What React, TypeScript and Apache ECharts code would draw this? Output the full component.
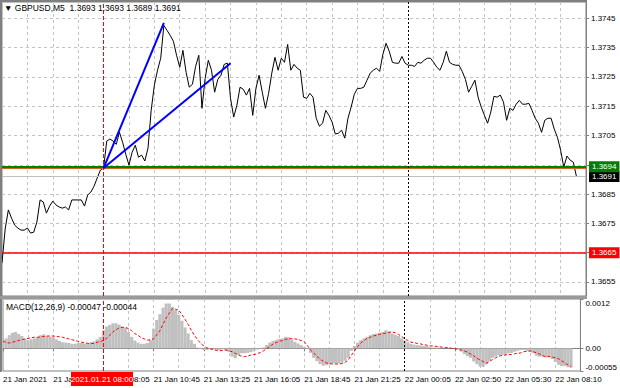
import React, { useEffect, useRef } from "react";
import * as echarts from "echarts";

// ---- data (M5 bars, sampled every second bar) ----
const priceSeries: number[] = [
  1.36615, 1.36731, 1.36796, 1.36768, 1.36744, 1.36734, 1.36727, 1.36727, 1.36734, 1.36717,
  1.3672, 1.36755, 1.3683, 1.36823, 1.36785, 1.36809, 1.36826, 1.36813, 1.36806, 1.36802,
  1.36806, 1.36796, 1.3683, 1.3683, 1.3683, 1.3683, 1.36809, 1.36847, 1.36857, 1.36877,
  1.36905, 1.36932, 1.36939, 1.37031, 1.37038, 1.37031, 1.3702, 1.37061, 1.37027, 1.36986,
  1.36949, 1.36993, 1.37017, 1.36976, 1.36983, 1.36963, 1.37007, 1.37136, 1.37222, 1.37273,
  1.37314, 1.37426, 1.37409, 1.37392, 1.37372, 1.37324, 1.37283, 1.37341, 1.37266, 1.37215,
  1.37225, 1.37286, 1.37324, 1.37143, 1.37245, 1.37307, 1.37273, 1.37198, 1.37242, 1.37256,
  1.37293, 1.37297, 1.37177, 1.37113, 1.37153, 1.37215, 1.37208, 1.37188, 1.37211, 1.37119,
  1.37211, 1.37256, 1.37198, 1.37143, 1.37194, 1.37263, 1.37317, 1.37273, 1.37314, 1.373,
  1.37361, 1.37273, 1.37293, 1.3728, 1.37273, 1.37181, 1.37177, 1.37194, 1.37181, 1.37109,
  1.37082, 1.37092, 1.37136, 1.37119, 1.37096, 1.37055, 1.37058, 1.37068, 1.37041, 1.37109,
  1.37147, 1.37191, 1.37211, 1.37211, 1.37215, 1.37239, 1.37263, 1.37273, 1.3728, 1.37269,
  1.37327, 1.37365, 1.37338, 1.373, 1.37297, 1.37297, 1.3732, 1.37297, 1.3729, 1.3729,
  1.37286, 1.373, 1.37297, 1.37307, 1.37314, 1.37314, 1.373, 1.37283, 1.37273, 1.373,
  1.37338, 1.373, 1.37293, 1.3729, 1.3729, 1.37269, 1.37242, 1.37198, 1.37218, 1.37239,
  1.37181, 1.37147, 1.37119, 1.37092, 1.3713, 1.37184, 1.37181, 1.37188, 1.37164, 1.37102,
  1.37143, 1.37136, 1.37157, 1.3717, 1.37157, 1.37157, 1.3716, 1.37136, 1.37109, 1.37092,
  1.37061, 1.37102, 1.37109, 1.37109, 1.37072, 1.37044, 1.37, 1.36942, 1.3698, 1.36966,
  1.36959, 1.3691,
];

// MACD main histogram, in units of 0.00001
const macdHistE5: number[] = [
  20, 24, 32, 38, 40, 35, 30, 23, 20, 22,
  24, 28, 32, 34, 30, 28, 27, 22, 18, 15,
  14, 13, 11, 11, 13, 13, 12, 12, 15, 17,
  22, 28, 44, 53, 57, 61, 61, 58, 53, 50,
  40, 28, 19, 14, 11, 11, 13, 20, 48, 69,
  83, 99, 109, 109, 101, 93, 82, 67, 51, 36,
  20, 11, 2, -2, -4, -4, -2, -2, -4, -4,
  -2, -5, -9, -20, -24, -16, -12, -12, -11, -9,
  -6, -3, -1, 2, 8, 14, 18, 20, 23, 24,
  28, 27, 22, 16, 12, 8, 4, -1, -11, -23,
  -31, -38, -42, -41, -39, -37, -37, -37, -35, -30,
  -23, -6, 6, 14, 20, 24, 28, 32, 35, 36,
  38, 40, 44, 41, 36, 33, 30, 24, 19, 15,
  11, 9, 8, 7, 6, 6, 4, 2, 2, 2,
  0, 0, 0, 0, 0, -2, -8, -14, -19, -23,
  -32, -38, -44, -45, -39, -31, -23, -20, -16, -16,
  -14, -12, -11, -8, -6, -4, -4, -6, -9, -12,
  -18, -20, -20, -22, -21, -26, -33, -40, -43, -43,
  -46, -47,
];

// MACD signal line, in units of 0.00001
const macdSignalE5: number[] = [
  18, 14, 13, 15, 17, 19, 21, 23, 24, 26,
  27, 27, 28, 29, 30, 30, 30, 29, 28, 27,
  25, 23, 21, 19, 17, 15, 14, 12, 12, 12,
  15, 16, 20, 24, 32, 40, 45, 50, 51, 51,
  48, 43, 36, 32, 26, 23, 20, 21, 23, 33,
  43, 59, 74, 86, 97, 95, 93, 82, 71, 58,
  44, 32, 21, 12, 6, 1, -1, -3, -5, -6,
  -5, -4, -6, -8, -12, -16, -19, -20, -19, -16,
  -15, -13, -10, -6, -1, 5, 10, 14, 17, 19,
  22, 23, 24, 23, 22, 19, 16, 7, -4, -11,
  -19, -26, -31, -35, -37, -38, -38, -38, -37, -34,
  -28, -17, -6, 4, 13, 19, 24, 27, 30, 32,
  34, 36, 37, 39, 40, 38, 34, 29, 23, 19,
  15, 14, 12, 11, 9, 8, 6, 6, 5, 4,
  3, 2, 2, 0, -1, -2, -4, -6, -9, -14,
  -18, -24, -28, -32, -36, -32, -27, -23, -19, -17,
  -16, -15, -15, -13, -12, -11, -8, -7, -6, -8,
  -11, -14, -18, -20, -20, -21, -23, -25, -30, -35,
  -40, -44,
];

const timeLabels: string[] = [
  "21 Jan 2021", "21 Jan 05:25", "21 Jan 08:05", "21 Jan 10:45",
  "21 Jan 13:25", "21 Jan 16:05", "21 Jan 18:45", "21 Jan 21:25",
  "22 Jan 00:05", "22 Jan 02:50", "22 Jan 05:30", "22 Jan 08:10",
];
const LABEL_STEP = 16; // slots between time labels
const GRID_STEP = 8; // slots between vertical grid lines
const SLOT_COUNT = 185; // includes the right-hand chart shift

const priceGridValues: number[] = [
  1.3655, 1.3665, 1.3675, 1.3685, 1.3695, 1.3705, 1.3715, 1.3725, 1.3735, 1.3745,
];
const priceLabelValues: number[] = [
  1.3655, 1.3675, 1.3685, 1.3705, 1.3715, 1.3725, 1.3735, 1.3745,
];
const macdLabelValues: number[] = [-0.00055, 0, 0.0012];
const macdLabelTexts: string[] = ["-0.00055", "0.00", "0.0012"];

const ohlc: number[] = [1.3693, 1.3693, 1.3689, 1.3691];
const BID_PRICE = 1.3691;
const GREEN_LEVEL = 1.36943;
const ORANGE_LEVEL = 1.36937;
const RED_LEVEL = 1.3665;
const MARKER_SLOT = 32; // 2021.01.21 08:00
const DAY_SEPARATOR_SLOT = 128;
const markerLabel = "2021.01.21 08:00";
const trendLines: [number, number][][] = [
  [[32, 1.36939], [51, 1.37435]],
  [[32, 1.36939], [72, 1.37297]],
];

const FONT = "'Liberation Sans', Arial, sans-serif";
const FS = 8;
const TITLE_FS = 8.5;
const GRID_LINE = { color: "#c4c4c4", type: [3, 3] as number[], width: 1 };

export default function App() {
  const ref = useRef<HTMLDivElement>(null);

  useEffect(() => {
    if (!ref.current) return;
    const chart = echarts.init(ref.current, null, { renderer: "svg" });
    const categories = Array.from({ length: SLOT_COUNT }, (_, i) => String(i));
    const hist = macdHistE5.map((v) => v / 100000);
    const signal = macdSignalE5.map((v) => v / 100000);
    const lastHist = hist[hist.length - 1].toFixed(5);
    const lastSignal = signal[signal.length - 1].toFixed(5);

    const boxLabel = (text: string, bg: string) => ({
      show: true,
      position: "end",
      formatter: text,
      backgroundColor: bg,
      color: "#ffffff",
      padding: [1, 3, 1, 3],
      distance: 3,
      fontSize: FS,
      lineHeight: 9,
      fontFamily: FONT,
    });

    // one helper series per drawn line, so every line carries its own style
    const lineObject = (
      name: string,
      pane: number,
      item: any,
      color: string,
      width: number,
      type: any,
      label?: any,
      z = 4
    ) => ({
      name,
      type: "line",
      xAxisIndex: pane,
      yAxisIndex: pane,
      data: [],
      symbol: "none",
      color,
      lineStyle: { color, width, type },
      z,
      markLine: {
        silent: true,
        symbol: "none",
        precision: 6,
        z,
        animation: false,
        lineStyle: { color, width, type },
        label: label ?? { show: false },
        emphasis: { disabled: true },
        data: [item],
      },
    });

    const labelEvery = (i: number) => i % LABEL_STEP === 0;
    const gridEvery = (i: number) =>
      i % GRID_STEP === 0 && i !== MARKER_SLOT && i !== DAY_SEPARATOR_SLOT;

    const option: any = {
      animation: false,
      backgroundColor: "#ffffff",
      title: [
        {
          text: `▼ GBPUSD,M5  ${ohlc.map((v) => v.toFixed(4)).join(" ")}`,
          left: 4,
          top: 3,
          padding: 0,
          textStyle: { fontSize: TITLE_FS, fontWeight: "normal", fontFamily: FONT, color: "#000" },
        },
        {
          text: `MACD(12,26,9) ${lastHist} ${lastSignal}`,
          left: 6,
          top: 302,
          padding: 0,
          textStyle: { fontSize: TITLE_FS, fontWeight: "normal", fontFamily: FONT, color: "#000" },
        },
      ],
      grid: [
        { left: 2, right: 34, top: 2, height: 294, show: true, borderColor: "#808080", borderWidth: 1 },
        { left: 2, right: 34, top: 299, height: 72, show: true, borderColor: "#808080", borderWidth: 1 },
      ],
      xAxis: [
        {
          type: "category",
          gridIndex: 0,
          data: categories,
          boundaryGap: false,
          axisLine: { show: false },
          axisTick: { show: false },
          axisLabel: { show: false },
          splitLine: { show: true, interval: gridEvery, lineStyle: GRID_LINE },
        },
        {
          type: "category",
          gridIndex: 1,
          data: categories,
          boundaryGap: false,
          axisLine: { show: true, lineStyle: { color: "#808080" } },
          axisTick: { show: true, interval: labelEvery, length: 3, lineStyle: { color: "#808080" } },
          axisLabel: {
            interval: labelEvery,
            formatter: (_v: string, idx: number) => timeLabels[idx / LABEL_STEP] ?? "",
            align: "left",
            margin: 4,
            fontSize: FS,
            fontFamily: FONT,
            color: "#000",
          },
          splitLine: { show: true, interval: gridEvery, lineStyle: GRID_LINE },
        },
      ],
      yAxis: [
        {
          type: "value",
          gridIndex: 0,
          position: "right",
          min: 1.36502,
          max: 1.37506,
          axisLine: { show: true, lineStyle: { color: "#808080" } },
          axisTick: { show: true, length: 3, customValues: priceGridValues, lineStyle: { color: "#808080" } },
          axisLabel: {
            customValues: priceLabelValues,
            formatter: (v: number) => v.toFixed(4),
            margin: 5,
            fontSize: FS,
            fontFamily: FONT,
            color: "#000",
          },
          splitLine: { show: true, lineStyle: GRID_LINE },
        },
        {
          type: "value",
          gridIndex: 1,
          position: "right",
          min: -0.00055,
          max: 0.0012,
          axisLine: { show: true, lineStyle: { color: "#808080" } },
          axisTick: { show: true, length: 3, customValues: macdLabelValues, lineStyle: { color: "#808080" } },
          axisLabel: {
            customValues: macdLabelValues,
            formatter: (v: number) => {
              let best = 0;
              macdLabelValues.forEach((m, k) => {
                if (Math.abs(m - v) < Math.abs(macdLabelValues[best] - v)) best = k;
              });
              return macdLabelTexts[best];
            },
            verticalAlignMinLabel: "bottom",
            verticalAlignMaxLabel: "top",
            margin: 5,
            fontSize: FS,
            fontFamily: FONT,
            color: "#000",
          },
          splitLine: { show: false },
        },
      ],
      series: [
        {
          name: "GBPUSD",
          type: "line",
          xAxisIndex: 0,
          yAxisIndex: 0,
          data: priceSeries,
          symbol: "none",
          color: "#000000",
          lineStyle: { color: "#000000", width: 1 },
          z: 3,
        },
        {
          name: "MACD",
          type: "bar",
          xAxisIndex: 1,
          yAxisIndex: 1,
          data: hist,
          barCategoryGap: "0%",
          itemStyle: { color: "#c0c0c0" },
          z: 2,
        },
        {
          name: "Signal",
          type: "line",
          xAxisIndex: 1,
          yAxisIndex: 1,
          data: signal,
          symbol: "none",
          color: "#ff0000",
          lineStyle: { color: "#ff0000", width: 1, type: [3, 2] },
          z: 3,
        },
        lineObject("bid", 0, { yAxis: BID_PRICE }, "#c0c0c0", 1, "solid", boxLabel(BID_PRICE.toFixed(4), "#000000")),
        lineObject("orangeLevel", 0, { yAxis: ORANGE_LEVEL }, "#d2691e", 1, "solid"),
        lineObject("greenLevel", 0, { yAxis: GREEN_LEVEL }, "#008000", 2, "solid", boxLabel(GREEN_LEVEL.toFixed(4), "#008000")),
        lineObject("redLevel", 0, { yAxis: RED_LEVEL }, "#ff0000", 1.5, "solid", boxLabel(RED_LEVEL.toFixed(4), "#ff0000")),
        ...trendLines.map((seg, k) =>
          lineObject(`trend${k}`, 0, [{ coord: seg[0] }, { coord: seg[1] }], "#0000ff", 2, "solid", undefined, 5)
        ),
        lineObject("markerMain", 0, { xAxis: MARKER_SLOT }, "#ff0000", 1, [4, 2]),
        lineObject("markerMacd", 1, { xAxis: MARKER_SLOT }, "#ff0000", 1, [4, 2]),
        lineObject("dayMain", 0, { xAxis: DAY_SEPARATOR_SLOT }, "#000000", 1, [2, 2]),
        lineObject("dayMacd", 1, { xAxis: DAY_SEPARATOR_SLOT }, "#000000", 1, [2, 2]),
      ],
      graphic: [
        { type: "rect", z: 20, shape: { x: 0, y: 0, width: 587, height: 2 }, style: { fill: "#808080" } },
        { type: "rect", z: 20, shape: { x: 0, y: 0, width: 2, height: 372 }, style: { fill: "#808080" } },
        { type: "rect", z: 20, shape: { x: 0, y: 296, width: 587, height: 3 }, style: { fill: "#9a9a9a" } },
        { type: "rect", z: 20, shape: { x: 71, y: 372, width: 62, height: 14 }, style: { fill: "#ff0000" } },
        {
          type: "text",
          z: 21,
          x: 102,
          y: 379,
          style: {
            text: markerLabel,
            fill: "#ffffff",
            fontSize: FS,
            fontFamily: FONT,
            align: "center",
            verticalAlign: "middle",
          },
        },
      ],
    };

    chart.setOption(option);
    return () => chart.dispose();
  }, []);

  return (
    <div
      ref={ref}
      style={{ position: "absolute", left: 0, top: 0, width: 620, height: 388, background: "#fff" }}
    />
  );
}
